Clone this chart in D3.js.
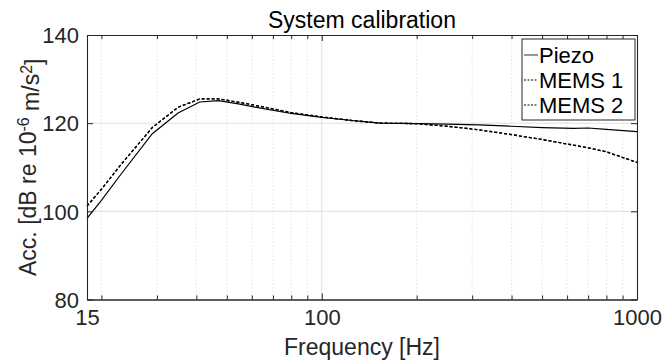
<!DOCTYPE html>
<html>
<head>
<meta charset="utf-8">
<script src="https://cdn.jsdelivr.net/npm/d3@7"></script>
<style>
  html, body { margin: 0; padding: 0; background: #fff; }
  svg { display: block; font-family: "Liberation Sans", Arial, Helvetica, sans-serif; }
</style>
</head>
<body>
<svg id="chart" width="665" height="362"></svg>
<script>
// ---- data ----
const freqPiezo = [18, 20, 23, 29, 35, 41, 47, 55, 64, 80, 100, 125, 153, 200, 250, 315, 400, 500, 630, 700, 800, 1000];
const piezo     = [98.4, 102.5, 108.3, 117.6, 122.3, 124.8, 125.1, 124.3, 123.4, 122.2, 121.3, 120.6, 120.0, 119.9, 119.8, 119.6, 119.3, 119.0, 118.8, 118.9, 118.6, 118.1];
const freqMems  = [18, 20, 23, 29, 35, 41, 47, 55, 64, 80, 100, 125, 153, 200, 250, 315, 400, 500, 630, 700, 800, 1000];
const mems1     = [101.2, 105.0, 110.5, 119.0, 123.6, 125.5, 125.5, 124.7, 123.8, 122.4, 121.4, 120.6, 120.0, 119.9, 119.3, 118.5, 117.4, 116.3, 115.0, 114.4, 113.5, 111.1];
const mems2     = [101.2, 105.0, 110.5, 119.0, 123.6, 125.5, 125.5, 124.7, 123.8, 122.4, 121.4, 120.6, 120.0, 119.9, 119.3, 118.5, 117.4, 116.3, 115.0, 114.4, 113.5, 111.1];
const seriesNames = ["Piezo", "MEMS 1", "MEMS 2"];
const xTickValues = [18, 100, 1000];
const xTickLabels = ["15", "100", "1000"];
const xMinorValues = [20, 30, 40, 50, 60, 70, 80, 90, 200, 300, 400, 500, 600, 700, 800, 900];
const yTickValues = [80, 100, 120, 140];
const xDomain = [18, 1000];
const yDomain = [80, 140];
const titleText = "System calibration";
const xLabelText = "Frequency [Hz]";

// ---- layout ----
const svg = d3.select("#chart");
const L = 87, R = 637, T = 35, B = 299.5;
const axisColor = "#262626";

const x = d3.scaleLog().domain(xDomain).range([L, R]);
const y = d3.scaleLinear().domain(yDomain).range([B, T]);

// grid
const g = svg.append("g");
g.selectAll(".minor").data(xMinorValues).enter().append("line")
  .attr("x1", d => x(d)).attr("x2", d => x(d)).attr("y1", T).attr("y2", B)
  .attr("stroke", "#dcdcdc").attr("stroke-width", 0.8).attr("stroke-dasharray", "1.5,2");
g.selectAll(".majx").data(xTickValues.filter(d => d > xDomain[0] && d < xDomain[1])).enter().append("line")
  .attr("x1", d => x(d)).attr("x2", d => x(d)).attr("y1", T).attr("y2", B)
  .attr("stroke", "#dedede").attr("stroke-width", 1);
g.selectAll(".majy").data(yTickValues.filter(d => d > yDomain[0] && d < yDomain[1])).enter().append("line")
  .attr("x1", L).attr("x2", R).attr("y1", d => y(d)).attr("y2", d => y(d))
  .attr("stroke", "#dedede").attr("stroke-width", 1);

// lines
const line = (fs) => d3.line().x((d, i) => x(fs[i])).y(d => y(d));
svg.append("path").datum(mems1).attr("d", line(freqMems))
  .attr("fill", "none").attr("stroke", "#000").attr("stroke-width", 1.3).attr("stroke-dasharray", "3,2");
svg.append("path").datum(mems2).attr("d", line(freqMems))
  .attr("fill", "none").attr("stroke", "#000").attr("stroke-width", 1.3).attr("stroke-dasharray", "3,2");
svg.append("path").datum(piezo).attr("d", line(freqPiezo))
  .attr("fill", "none").attr("stroke", "#000").attr("stroke-width", 1.2);

// axes (box with inward ticks)
const xBottom = d3.axisBottom(x).tickValues(xTickValues).tickFormat((d, i) => xTickLabels[i]).tickSizeInner(-6).tickSizeOuter(0).tickPadding(10);
const gxb = svg.append("g").attr("transform", `translate(0,${B})`).call(xBottom);
const gxbm = svg.append("g").attr("transform", `translate(0,${B})`).call(d3.axisBottom(x).tickValues(xMinorValues).tickFormat("").tickSizeInner(-4).tickSizeOuter(0));
const gxt = svg.append("g").attr("transform", `translate(0,${T})`).call(d3.axisTop(x).tickValues(xTickValues).tickFormat("").tickSizeInner(-6).tickSizeOuter(0));
const gxtm = svg.append("g").attr("transform", `translate(0,${T})`).call(d3.axisTop(x).tickValues(xMinorValues).tickFormat("").tickSizeInner(-4).tickSizeOuter(0));
const gyl = svg.append("g").attr("transform", `translate(${L},0)`).call(d3.axisLeft(y).tickValues(yTickValues).tickSizeInner(-6).tickSizeOuter(0).tickPadding(8));
const gyr = svg.append("g").attr("transform", `translate(${R},0)`).call(d3.axisRight(y).tickValues(yTickValues).tickFormat("").tickSizeInner(-6).tickSizeOuter(0));

[gxb, gxbm, gxt, gxtm, gyl, gyr].forEach(a => {
  a.select(".domain").attr("stroke", axisColor).attr("stroke-width", 1.1);
  a.selectAll(".tick line").attr("stroke", axisColor).attr("stroke-width", 1);
  a.selectAll("text").attr("fill", axisColor).style("font-size", "22px")
    .style("font-family", '"Liberation Sans", Arial, sans-serif');
});
gxb.selectAll("text").attr("dy", "0.71em");
gyl.selectAll("text").attr("dy", "0.35em");

// title & labels
svg.append("text").attr("x", (L + R) / 2).attr("y", 28).attr("text-anchor", "middle")
  .attr("fill", "#000").style("font-size", "23px").text(titleText);
svg.append("text").attr("x", (L + R) / 2).attr("y", 355).attr("text-anchor", "middle")
  .attr("fill", axisColor).style("font-size", "23px").text(xLabelText);

const yl = svg.append("text").attr("transform", `translate(36,${(T + B) / 2}) rotate(-90)`)
  .attr("text-anchor", "middle").attr("fill", axisColor).style("font-size", "23px");
yl.append("tspan").text("Acc. [dB re 10");
yl.append("tspan").attr("dy", "-0.45em").style("font-size", "16px").text("-6");
yl.append("tspan").attr("dy", "0.45em").text(" m/s");
yl.append("tspan").attr("dy", "-0.45em").style("font-size", "16px").text("2");
yl.append("tspan").attr("dy", "0.45em").text("]");

// legend
const lgX = 522, lgY = 39, lgW = 113, lgH = 81, rowH = 25;
svg.append("rect").attr("x", lgX).attr("y", lgY).attr("width", lgW).attr("height", lgH)
  .attr("fill", "#fff").attr("stroke", axisColor).attr("stroke-width", 1);
const dashes = [null, "2,1.5", "2,1.5"];
seriesNames.forEach((name, i) => {
  const cy = lgY + 16 + i * rowH;
  svg.append("line").attr("x1", lgX + 2).attr("x2", lgX + 16).attr("y1", cy).attr("y2", cy)
    .attr("stroke", i === 0 ? "#444" : "#000").attr("stroke-width", 1.1)
    .attr("stroke-dasharray", dashes[i]);
  svg.append("text").attr("x", lgX + 17).attr("y", cy).attr("dy", "0.36em")
    .attr("fill", "#000").style("font-size", "22px").text(name);
});
</script>
</body>
</html>
